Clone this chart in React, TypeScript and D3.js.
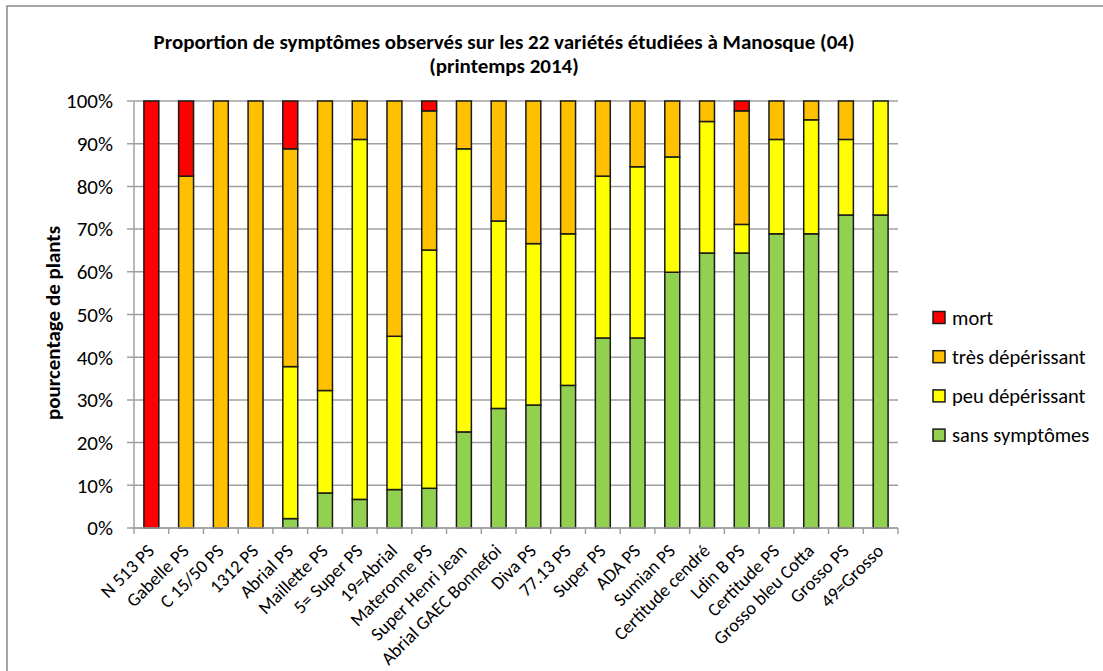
import React from "react";
import * as d3 from "d3";

const categories = [
  "N 513 PS", "Gabelle PS", "C 15/50 PS", "1312 PS", "Abrial PS", "Maillette PS",
  "5= Super PS", "19=Abrial", "Materonne PS", "Super Henri Jean", "Abrial GAEC Bonnefoi",
  "Diva PS", "77.13 PS", "Super PS", "ADA PS", "Sumian PS", "Certitude cendré",
  "Ldin B PS", "Certitude PS", "Grosso bleu Cotta", "Grosso PS", "49=Grosso",
];

const sansSymptomes = [0, 0, 0, 0, 2.2, 8.2, 6.7, 9.0, 9.3, 22.5, 28.0, 28.8, 33.4, 44.5, 44.5, 59.9, 64.4, 64.4, 68.9, 68.9, 73.3, 73.3];
const peuDeperissant = [0, 0, 0, 0, 35.6, 24.0, 84.3, 35.9, 55.8, 66.3, 43.9, 37.8, 35.5, 37.9, 40.1, 27.0, 30.8, 6.7, 22.1, 26.7, 17.7, 26.7];
const tresDeperissant = [0, 82.4, 100, 100, 51.0, 67.8, 9.0, 55.1, 32.6, 11.2, 28.1, 33.4, 31.1, 17.6, 15.4, 13.1, 4.8, 26.6, 9.0, 4.4, 9.0, 0];
const mort = [100, 17.6, 0, 0, 11.2, 0, 0, 0, 2.3, 0, 0, 0, 0, 0, 0, 0, 0, 2.3, 0, 0, 0, 0];

const seriesNames = ["sans symptômes", "peu dépérissant", "très dépérissant", "mort"];
const seriesColors = ["#92D050", "#FFFF00", "#FFC000", "#FF0000"];
const yTicks = [0, 10, 20, 30, 40, 50, 60, 70, 80, 90, 100];

const FONT = "Carlito, Calibri, Lato, 'Open Sans', sans-serif";

export default function App() {
  const W = 1103, H = 671;
  const left = 134, right = 898, top = 101, bottom = 528;

  const rows = categories.map((c, i) => ({
    cat: c,
    "sans symptômes": sansSymptomes[i],
    "peu dépérissant": peuDeperissant[i],
    "très dépérissant": tresDeperissant[i],
    mort: mort[i],
  }));
  const stack = d3.stack<any>().keys(seriesNames)(rows);

  const x = d3.scaleBand().domain(categories).range([left, right]).paddingInner(0.57).paddingOuter(0.285);
  const xb = d3.scaleBand().domain(categories).range([left, right]);
  const y = d3.scaleLinear().domain([0, 100]).range([bottom, top]);

  const legendOrder = [3, 2, 1, 0];

  return (
    <svg width={W} height={H} style={{ position: "absolute", left: 0, top: 0, background: "#fff" }} fontFamily={FONT}>
      <rect x={7} y={6} width={1100} height={670} fill="#fff" stroke="#888" strokeWidth={1.5} />
      <text x={504} y={49} textAnchor="middle" fontSize={21} fontWeight="bold" fill="#000">
        Proportion de symptômes observés sur les 22 variétés étudiées à Manosque (04)
      </text>
      <text x={504} y={73} textAnchor="middle" fontSize={21} fontWeight="bold" fill="#000">
        (printemps 2014)
      </text>

      {yTicks.map((t) => (
        <g key={t}>
          <line x1={left - 7} x2={right} y1={y(t)} y2={y(t)} stroke="#A0A0A0" strokeWidth={1.5} />
          <text x={113} y={y(t)} dy="0.35em" textAnchor="end" fontSize={21} fill="#000">{t}%</text>
        </g>
      ))}
      <line x1={left} x2={left} y1={top} y2={bottom} stroke="#A0A0A0" strokeWidth={1.5} />
      {categories.map((c) => (
        <line key={c} x1={xb(c)!} x2={xb(c)!} y1={bottom} y2={bottom + 6} stroke="#A0A0A0" strokeWidth={1.5} />
      ))}
      <line x1={right} x2={right} y1={bottom} y2={bottom + 6} stroke="#A0A0A0" strokeWidth={1.5} />

      {stack.map((s, si) => (
        <g key={s.key} fill={seriesColors[si]}>
          {s.map((d, i) =>
            d[1] - d[0] > 0 ? (
              <rect key={i} x={x(categories[i])!} width={x.bandwidth()} y={y(d[1])} height={y(d[0]) - y(d[1])} stroke="#1a1a1a" strokeWidth={1.5} />
            ) : null
          )}
        </g>
      ))}
      <line x1={left} x2={right} y1={bottom} y2={bottom} stroke="#A0A0A0" strokeWidth={1.5} />

      {categories.map((c) => {
        const cx = xb(c)! + xb.bandwidth() / 2 + 4;
        const cy = bottom + 24;
        return (
          <text key={c} x={cx} y={cy} textAnchor="end" fontSize={18.5} fill="#000" transform={`rotate(-45 ${cx} ${cy})`}>
            {c}
          </text>
        );
      })}

      <text x={0} y={0} transform={`translate(53 323) rotate(-90)`} textAnchor="middle" dy="0.35em" fontSize={21} fontWeight="bold" fill="#000">
        pourcentage de plants
      </text>

      {legendOrder.map((si, k) => {
        const ly = 317.5 + k * 39.2;
        return (
          <g key={si}>
            <rect x={933} y={ly - 6} width={12} height={12} fill={seriesColors[si]} stroke="#1a1a1a" strokeWidth={1.5} />
            <text x={952} y={ly} dy="0.35em" fontSize={20.5} fill="#000">{seriesNames[si]}</text>
          </g>
        );
      })}
    </svg>
  );
}
